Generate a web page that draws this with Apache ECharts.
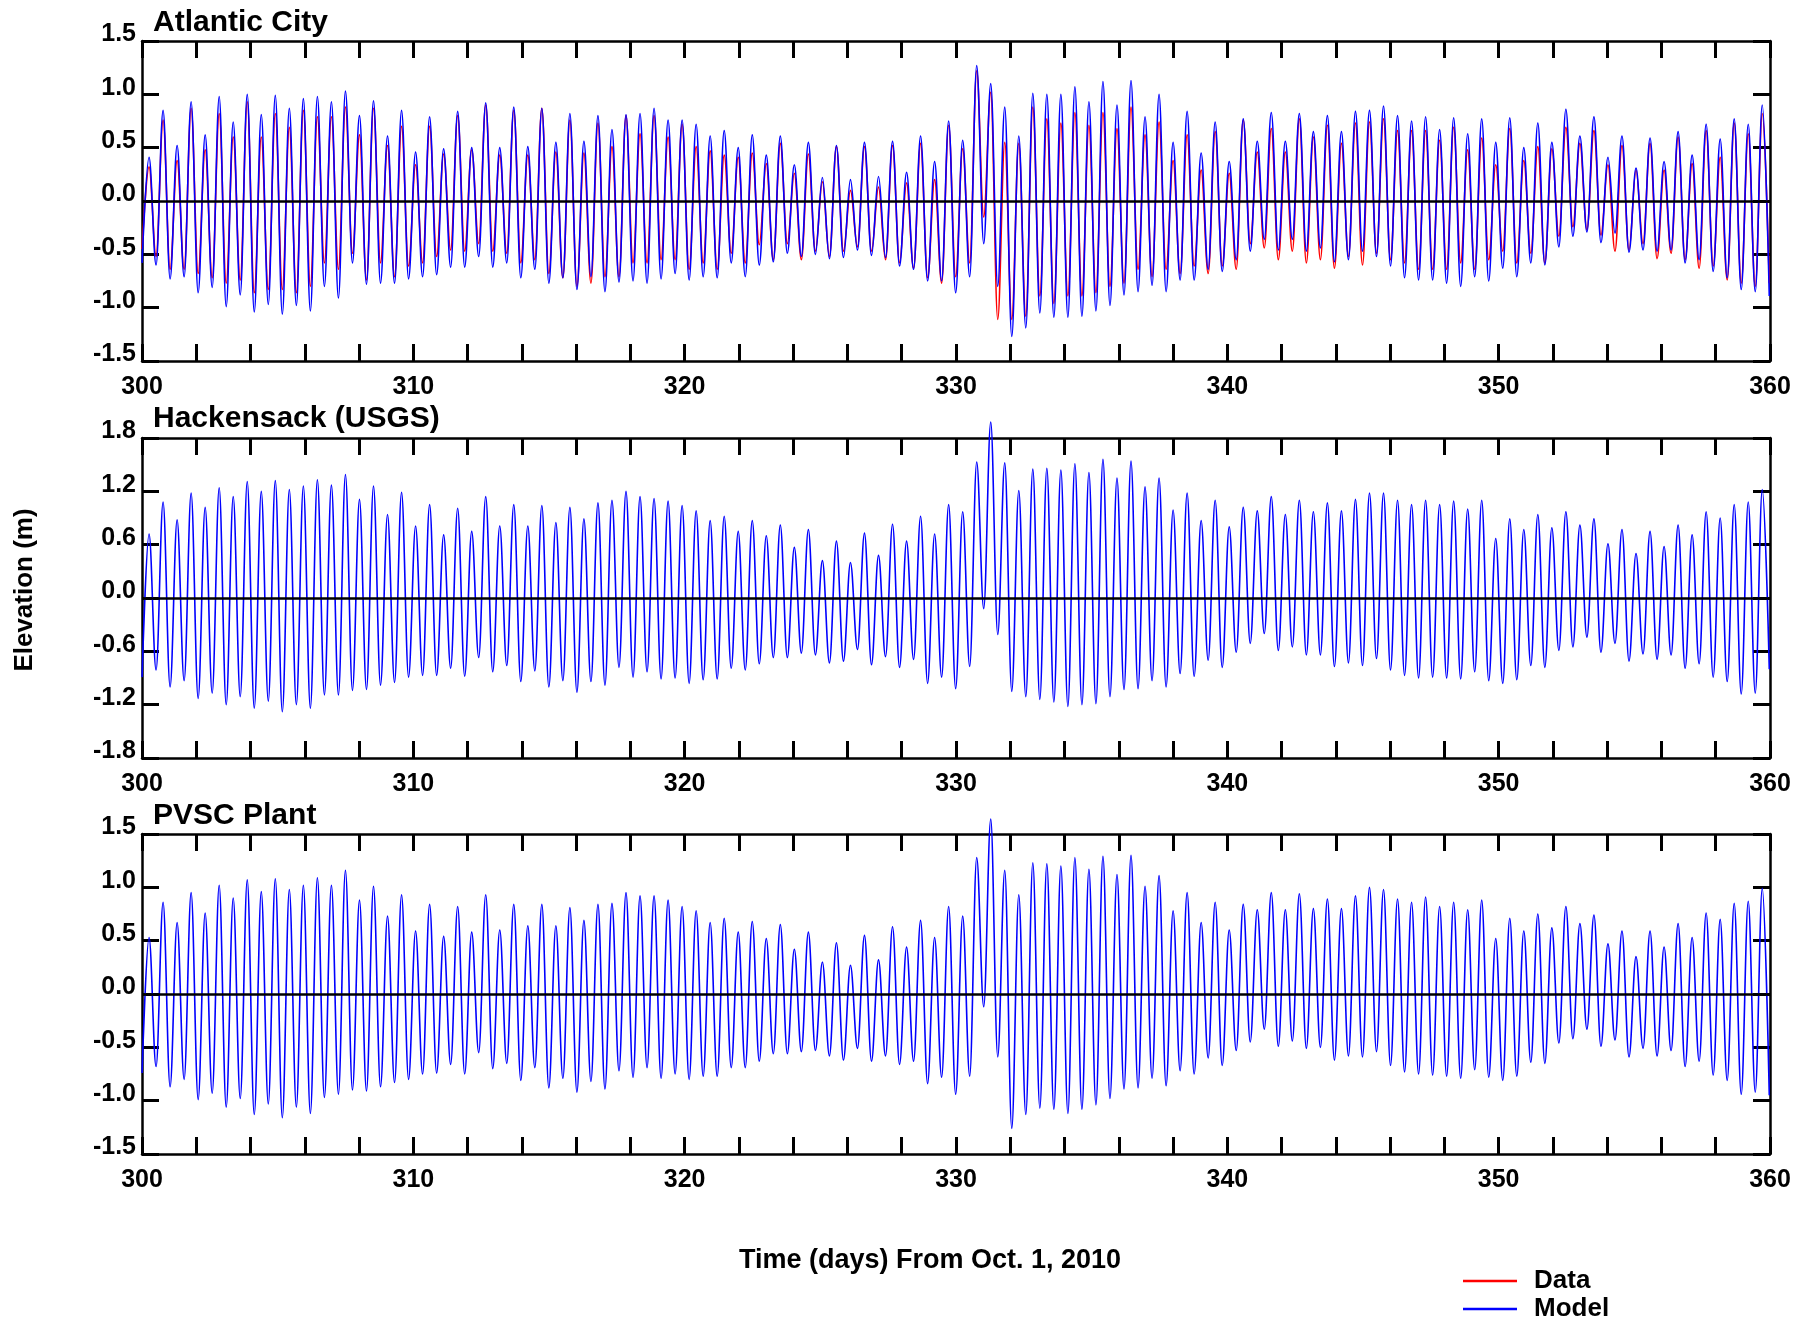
<!DOCTYPE html>
<html>
<head>
<meta charset="utf-8">
<title>Elevation</title>
<script src="https://cdn.jsdelivr.net/npm/echarts@6.0.0/dist/echarts.min.js"></script>
<style>
  html, body { margin: 0; padding: 0; background: #fff; }
  #chart { width: 1816px; height: 1320px; }
</style>
</head>
<body>
<div id="chart"></div>
<script>
// tidal grid: each high water k sits at tideStart + k * tidePeriod, lows halfway between
const tideStart = 300.26;
const tidePeriod = 0.517;

const xLabels = [300, 310, 320, 330, 340, 350, 360];
const yTicksAC = [-1.5, -1.0, -0.5, 0.0, 0.5, 1.0, 1.5];
const yTicksHK = [-1.8, -1.2, -0.6, 0.0, 0.6, 1.2, 1.8];
const yTicksPV = [-1.5, -1.0, -0.5, 0.0, 0.5, 1.0, 1.5];
const panelTitles = ["Atlantic City", "Hackensack (USGS)", "PVSC Plant"];

// Atlantic City - model (blue), high waters
const acModelHigh = [
    0.41, 0.85, 0.52, 0.93, 0.62, 0.98, 0.74, 1.00, 0.81, 0.99, 0.87, 0.96, 0.98, 0.93, 1.03, 0.80, 0.94, 0.61, 0.85, 0.46, 0.79, 0.49, 0.84, 0.50, 0.92, 0.50, 0.88, 0.51, 0.87,
    0.55, 0.82, 0.56, 0.80, 0.67, 0.81, 0.82, 0.87, 0.76, 0.76, 0.72, 0.61, 0.66, 0.50, 0.62, 0.43, 0.61, 0.34, 0.55, 0.22, 0.52, 0.20, 0.55, 0.23, 0.56, 0.27, 0.61, 0.37, 0.75,
    0.57, 1.27, 1.10, 0.88, 0.61, 1.01, 1.00, 1.00, 1.07, 0.93, 1.12, 0.90, 1.13, 0.79, 1.00, 0.55, 0.84, 0.45, 0.74, 0.37, 0.77, 0.56, 0.83, 0.56, 0.82, 0.65, 0.80, 0.65, 0.84,
    0.85, 0.89, 0.80, 0.75, 0.79, 0.67, 0.78, 0.63, 0.77, 0.55, 0.78, 0.50, 0.73, 0.55, 0.86, 0.61, 0.79, 0.41, 0.61, 0.31, 0.59, 0.37, 0.65, 0.43, 0.72, 0.58, 0.77, 0.72, 0.90
];
// Atlantic City - model, low waters (first one at the start of the record)
const acModelLow = [
    -0.58,
    -0.60, -0.73, -0.71, -0.86, -0.81, -0.99, -0.88, -1.04, -0.97, -1.06, -0.98, -1.03, -0.80, -0.91, -0.58, -0.78, -0.77, -0.77, -0.73, -0.71, -0.69, -0.62, -0.62, -0.52, -0.62, -0.58, -0.72, -0.64, -0.77,
    -0.72, -0.83, -0.71, -0.85, -0.76, -0.75, -0.77, -0.73, -0.68, -0.74, -0.71, -0.72, -0.58, -0.71, -0.60, -0.57, -0.49, -0.52, -0.50, -0.54, -0.53, -0.46, -0.51, -0.53, -0.61, -0.64, -0.75, -0.75, -0.86,
    -0.71, -0.40, -0.80, -1.27, -1.19, -1.05, -1.09, -1.09, -1.08, -1.03, -0.98, -0.88, -0.85, -0.79, -0.85, -0.74, -0.74, -0.64, -0.66, -0.55, -0.47, -0.36, -0.46, -0.36, -0.47, -0.44, -0.57, -0.55, -0.47,
    -0.52, -0.61, -0.72, -0.74, -0.74, -0.77, -0.80, -0.71, -0.75, -0.63, -0.71, -0.58, -0.60, -0.43, -0.33, -0.29, -0.39, -0.30, -0.48, -0.46, -0.47, -0.46, -0.58, -0.55, -0.66, -0.72, -0.83, -0.85, -0.89
];
// Atlantic City - data (red)
const acDataHigh = [
    0.32, 0.76, 0.38, 0.87, 0.48, 0.82, 0.60, 0.93, 0.60, 0.82, 0.69, 0.85, 0.79, 0.79, 0.88, 0.62, 0.87, 0.52, 0.70, 0.34, 0.70, 0.44, 0.80, 0.48, 0.90, 0.43, 0.85, 0.43, 0.87,
    0.46, 0.76, 0.45, 0.73, 0.51, 0.80, 0.63, 0.80, 0.60, 0.72, 0.51, 0.47, 0.43, 0.41, 0.45, 0.35, 0.54, 0.26, 0.44, 0.18, 0.51, 0.10, 0.51, 0.13, 0.52, 0.17, 0.54, 0.20, 0.71,
    0.49, 1.22, 1.02, 0.55, 0.54, 0.88, 0.77, 0.73, 0.83, 0.71, 0.83, 0.68, 0.88, 0.62, 0.74, 0.38, 0.62, 0.29, 0.65, 0.26, 0.76, 0.46, 0.68, 0.46, 0.77, 0.60, 0.71, 0.54, 0.73,
    0.74, 0.77, 0.66, 0.66, 0.66, 0.57, 0.69, 0.48, 0.59, 0.34, 0.68, 0.38, 0.51, 0.49, 0.69, 0.54, 0.66, 0.34, 0.52, 0.29, 0.54, 0.29, 0.60, 0.35, 0.66, 0.41, 0.73, 0.63, 0.82
];
const acDataLow = [
    -0.45,
    -0.52, -0.64, -0.64, -0.68, -0.72, -0.77, -0.74, -0.86, -0.83, -0.83, -0.86, -0.80, -0.58, -0.64, -0.49, -0.74, -0.58, -0.71, -0.61, -0.58, -0.52, -0.46, -0.47, -0.40, -0.47, -0.49, -0.58, -0.55, -0.68,
    -0.72, -0.80, -0.77, -0.71, -0.71, -0.58, -0.58, -0.55, -0.55, -0.64, -0.58, -0.64, -0.49, -0.58, -0.41, -0.55, -0.40, -0.55, -0.47, -0.52, -0.47, -0.43, -0.47, -0.55, -0.58, -0.63, -0.72, -0.77, -0.71,
    -0.58, -0.15, -1.11, -1.11, -1.08, -0.89, -0.96, -0.89, -0.89, -0.86, -0.80, -0.77, -0.64, -0.71, -0.64, -0.68, -0.61, -0.68, -0.61, -0.64, -0.40, -0.44, -0.55, -0.47, -0.58, -0.55, -0.63, -0.52, -0.60,
    -0.49, -0.55, -0.58, -0.64, -0.64, -0.64, -0.58, -0.64, -0.55, -0.47, -0.58, -0.49, -0.58, -0.33, -0.24, -0.27, -0.32, -0.47, -0.46, -0.40, -0.54, -0.49, -0.55, -0.63, -0.61, -0.74, -0.77, -0.80, -0.77
];

// Hackensack (USGS) - model
const hkModelHigh = [
    0.72, 1.08, 0.88, 1.18, 1.02, 1.24, 1.14, 1.31, 1.20, 1.32, 1.22, 1.26, 1.33, 1.27, 1.39, 1.11, 1.26, 0.94, 1.19, 0.81, 1.05, 0.71, 1.01, 0.75, 1.14, 0.81, 1.05, 0.81, 1.04,
    0.85, 1.02, 0.89, 1.07, 1.10, 1.20, 1.14, 1.12, 1.09, 1.04, 0.98, 0.87, 0.92, 0.75, 0.87, 0.70, 0.82, 0.57, 0.77, 0.42, 0.64, 0.40, 0.73, 0.48, 0.83, 0.64, 0.92, 0.72, 1.05,
    0.97, 1.53, 1.98, 1.52, 1.21, 1.45, 1.46, 1.44, 1.51, 1.41, 1.56, 1.35, 1.54, 1.25, 1.35, 0.99, 1.18, 0.87, 1.10, 0.80, 1.02, 0.98, 1.14, 0.94, 1.10, 0.97, 1.07, 0.98, 1.11,
    1.18, 1.18, 1.10, 1.05, 1.10, 1.05, 1.09, 1.00, 1.10, 0.67, 0.89, 0.77, 0.94, 0.79, 0.97, 0.82, 0.89, 0.61, 0.77, 0.50, 0.75, 0.58, 0.82, 0.71, 0.97, 0.90, 1.05, 1.08, 1.22
];
const hkModelLow = [
    -0.89,
    -0.81, -1.00, -0.93, -1.13, -1.07, -1.20, -1.11, -1.24, -1.16, -1.28, -1.20, -1.24, -1.09, -1.09, -1.04, -1.03, -0.98, -0.95, -0.89, -0.87, -0.87, -0.79, -0.88, -0.67, -0.83, -0.76, -0.94, -0.82, -1.00,
    -0.93, -1.06, -0.94, -0.98, -0.78, -0.89, -0.83, -0.91, -0.90, -0.96, -0.92, -0.91, -0.79, -0.81, -0.74, -0.67, -0.67, -0.62, -0.64, -0.73, -0.71, -0.58, -0.75, -0.66, -0.78, -0.69, -0.96, -0.89, -1.02,
    -0.77, -0.12, -0.41, -1.05, -1.11, -1.14, -1.17, -1.22, -1.20, -1.19, -1.11, -1.03, -1.02, -0.93, -1.00, -0.85, -0.88, -0.70, -0.78, -0.61, -0.51, -0.40, -0.59, -0.55, -0.64, -0.64, -0.77, -0.73, -0.76,
    -0.68, -0.81, -0.87, -0.90, -0.89, -0.90, -0.91, -0.83, -0.93, -0.96, -0.92, -0.76, -0.78, -0.59, -0.55, -0.44, -0.61, -0.51, -0.71, -0.63, -0.69, -0.64, -0.79, -0.74, -0.89, -0.94, -1.08, -1.07, -0.80
];

// PVSC Plant - model
const pvModelHigh = [
    0.53, 0.86, 0.67, 0.95, 0.76, 1.02, 0.90, 1.07, 0.96, 1.08, 0.98, 1.02, 1.09, 1.02, 1.16, 0.88, 1.01, 0.73, 0.93, 0.59, 0.84, 0.54, 0.82, 0.58, 0.93, 0.60, 0.84, 0.64, 0.84,
    0.64, 0.81, 0.69, 0.84, 0.85, 0.95, 0.92, 0.92, 0.88, 0.82, 0.78, 0.67, 0.71, 0.58, 0.68, 0.52, 0.65, 0.42, 0.58, 0.30, 0.48, 0.27, 0.55, 0.32, 0.63, 0.44, 0.69, 0.53, 0.82,
    0.73, 1.28, 1.64, 1.16, 0.93, 1.23, 1.22, 1.20, 1.28, 1.17, 1.29, 1.12, 1.30, 1.01, 1.11, 0.78, 0.95, 0.67, 0.86, 0.60, 0.84, 0.79, 0.95, 0.79, 0.94, 0.80, 0.89, 0.80, 0.92,
    1.00, 0.98, 0.89, 0.86, 0.91, 0.82, 0.86, 0.79, 0.88, 0.52, 0.71, 0.59, 0.75, 0.62, 0.82, 0.66, 0.74, 0.47, 0.59, 0.35, 0.59, 0.44, 0.66, 0.53, 0.76, 0.70, 0.85, 0.87, 0.99
];
const pvModelLow = [
    -0.74,
    -0.68, -0.87, -0.80, -0.99, -0.93, -1.06, -0.98, -1.13, -1.03, -1.16, -1.06, -1.12, -0.97, -0.94, -0.90, -0.91, -0.87, -0.83, -0.80, -0.75, -0.74, -0.66, -0.75, -0.55, -0.70, -0.65, -0.81, -0.69, -0.88,
    -0.79, -0.92, -0.82, -0.89, -0.72, -0.78, -0.69, -0.79, -0.75, -0.80, -0.77, -0.77, -0.69, -0.69, -0.63, -0.56, -0.56, -0.54, -0.53, -0.58, -0.62, -0.51, -0.63, -0.58, -0.66, -0.63, -0.84, -0.78, -0.94,
    -0.77, -0.12, -0.59, -1.26, -1.13, -1.07, -1.08, -1.12, -1.08, -1.04, -0.98, -0.89, -0.88, -0.79, -0.86, -0.72, -0.75, -0.60, -0.67, -0.53, -0.45, -0.33, -0.49, -0.44, -0.51, -0.50, -0.62, -0.58, -0.59,
    -0.54, -0.67, -0.73, -0.75, -0.76, -0.77, -0.79, -0.71, -0.78, -0.81, -0.77, -0.64, -0.65, -0.46, -0.42, -0.33, -0.49, -0.43, -0.59, -0.51, -0.58, -0.53, -0.68, -0.63, -0.76, -0.81, -0.94, -0.92, -0.95
];

const FONT = "'Liberation Sans', Arial, Helvetica, sans-serif";
const gridTops = [41, 438, 834];
const gridLeft = 142;
const gridWidth = 1628;
const gridHeight = 320;

// interleave lows and highs on the tidal time grid
function tideSeries(highs, lows) {
    const pts = [];
    for (let j = 0; j < lows.length; j++) {
        pts.push([tideStart - tidePeriod / 2 + j * tidePeriod, lows[j]]);
        if (j < highs.length) pts.push([tideStart + j * tidePeriod, highs[j]]);
    }
    return pts;
}

const axisLineStyle = { color: "#000", width: 2.5 };
const tickStyle = { inside: true, length: 17, lineStyle: { color: "#000", width: 3 } };

function makeXAxes(gi) {
    const base = {
        gridIndex: gi,
        type: "value",
        min: xLabels[0],
        max: xLabels[xLabels.length - 1],
        interval: 2,
        axisLine: { onZero: false, lineStyle: axisLineStyle },
        axisTick: tickStyle,
        splitLine: { show: false }
    };
    return [
        Object.assign({}, base, {
            position: "bottom",
            axisLabel: {
                margin: 14,
                color: "#000",
                fontFamily: FONT,
                fontWeight: "bold",
                fontSize: 25,
                formatter: function (v) {
                    return xLabels.indexOf(v) >= 0 ? String(v) : "";
                }
            }
        }),
        Object.assign({}, base, { position: "top", axisLabel: { show: false } })
    ];
}

function makeYAxes(gi, ticks) {
    const base = {
        gridIndex: gi,
        type: "value",
        min: ticks[0],
        max: ticks[ticks.length - 1],
        interval: +(ticks[1] - ticks[0]).toFixed(3),
        axisLine: { onZero: false, lineStyle: axisLineStyle },
        axisTick: tickStyle,
        splitLine: { show: false }
    };
    return [
        Object.assign({}, base, {
            position: "left",
            axisLabel: {
                margin: 6,
                color: "#000",
                fontFamily: FONT,
                fontWeight: "bold",
                fontSize: 25,
                verticalAlign: "bottom",
                lineHeight: 13,
                formatter: function (v) {
                    return v.toFixed(1);
                }
            }
        }),
        Object.assign({}, base, { position: "right", axisLabel: { show: false } })
    ];
}

function lineSeries(name, color, gi, pts, withZero) {
    const s = {
        name: name,
        type: "line",
        xAxisIndex: gi * 2,
        yAxisIndex: gi * 2,
        data: pts,
        showSymbol: false,
        symbol: "none",
        smooth: 0.36,
        smoothMonotone: "x",
        clip: false,
        lineStyle: { color: color, width: 1.6 },
        itemStyle: { color: color },
        emphasis: { disabled: true },
        silent: true
    };
    if (withZero) {
        s.markLine = {
            silent: true,
            symbol: "none",
            label: { show: false },
            lineStyle: { color: "#000", width: 2.5, type: "solid" },
            data: [{ yAxis: 0 }]
        };
    }
    return s;
}

function legendFor(name, top) {
    return {
        data: [name],
        left: 1463,
        top: top,
        padding: 0,
        icon: "rect",
        itemWidth: 54,
        itemHeight: 2.5,
        selectedMode: false,
        textStyle: {
            color: "#000",
            fontFamily: FONT,
            fontWeight: "bold",
            fontSize: 26,
            padding: [0, 0, 0, 12]
        }
    };
}

const chartDom = document.getElementById("chart");
const myChart = echarts.init(chartDom, null, { renderer: "canvas" });

const option = {
    animation: false,
    backgroundColor: "#fff",
    grid: gridTops.map(function (t) {
        return { left: gridLeft, top: t, width: gridWidth, height: gridHeight };
    }),
    xAxis: [].concat(makeXAxes(0), makeXAxes(1), makeXAxes(2)),
    yAxis: [].concat(makeYAxes(0, yTicksAC), makeYAxes(1, yTicksHK), makeYAxes(2, yTicksPV)),
    legend: [legendFor("Data", 1268), legendFor("Model", 1296)],
    series: [
        lineSeries("Data", "#ff0000", 0, tideSeries(acDataHigh, acDataLow), false),
        lineSeries("Model", "#0000ff", 0, tideSeries(acModelHigh, acModelLow), true),
        lineSeries("Model", "#0000ff", 1, tideSeries(hkModelHigh, hkModelLow), true),
        lineSeries("Model", "#0000ff", 2, tideSeries(pvModelHigh, pvModelLow), true)
    ],
    graphic: [
        { type: "text", x: 153, y: 23, style: { text: panelTitles[0], font: "bold 30px " + FONT, fill: "#000", align: "left", verticalAlign: "middle" } },
        { type: "text", x: 153, y: 419, style: { text: panelTitles[1], font: "bold 30px " + FONT, fill: "#000", align: "left", verticalAlign: "middle" } },
        { type: "text", x: 153, y: 816, style: { text: panelTitles[2], font: "bold 30px " + FONT, fill: "#000", align: "left", verticalAlign: "middle" } },
        { type: "text", x: 930, y: 1261, style: { text: "Time (days) From Oct. 1, 2010", font: "bold 27px " + FONT, fill: "#000", align: "center", verticalAlign: "middle" } },
        { type: "text", x: 25, y: 590, rotation: Math.PI / 2, style: { text: "Elevation (m)", font: "bold 26px " + FONT, fill: "#000", align: "center", verticalAlign: "middle" } }
    ]
};

myChart.setOption(option);
window.addEventListener("resize", function () {
    myChart.resize();
});
</script>
</body>
</html>
